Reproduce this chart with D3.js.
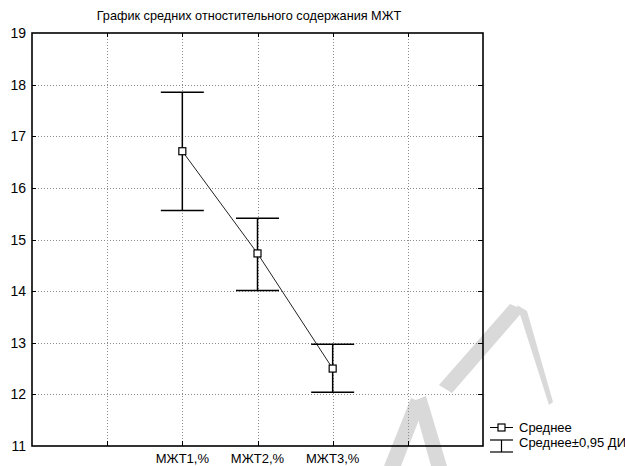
<!DOCTYPE html>
<html>
<head>
<meta charset="utf-8">
<script src="https://cdn.jsdelivr.net/npm/d3@7"></script>
<style>
  html, body { margin: 0; padding: 0; background: #fff; }
  svg { display: block; font-family: "Liberation Sans", Arial, sans-serif; }
</style>
</head>
<body>
<div id="chart"></div>
<script>
// Data
var categories = ['МЖТ1,%', 'МЖТ2,%', 'МЖТ3,%'];
var means = [16.71, 14.73, 12.50];
var ciLow = [15.56, 14.01, 12.04];
var ciHigh = [17.85, 15.41, 12.97];
var yTicks = [11, 12, 13, 14, 15, 16, 17, 18, 19];
var title = 'График средних отностительного содержания МЖТ';
var legendLabels = ['Среднее', 'Среднее±0,95 ДИ'];

(function() {
  var W = 625, H = 466;
  var left = 32, right = 483, top = 33, bottom = 446;

  var svg = d3.select('#chart').append('svg')
    .attr('width', W).attr('height', H);

  // 7 grid slots, categories sit on slots 2..4
  var x = d3.scaleLinear().domain([0, 6]).range([left, right]);
  var y = d3.scaleLinear().domain([11, 19]).range([bottom, top]);
  var slots = d3.range(0, 7);

  // Watermark (light gray strokes behind the chart)
  var wm = svg.append('g').attr('fill', '#d9d9d9');
  wm.append('polygon').attr('points', '510,304 524,310 452,393 439,385');
  wm.append('polygon').attr('points', '517,305 527,311 553,402 549,405');
  wm.append('polygon').attr('points', '411,398 425,404 401,466 384,466');
  wm.append('polygon').attr('points', '413,401 426,396 447,466 431,466');

  // Grid
  var grid = svg.append('g')
    .attr('stroke', '#8c8c8c').attr('stroke-width', 1)
    .attr('stroke-dasharray', '1,2');
  grid.selectAll('line.v')
    .data(slots.slice(1, 6))
    .join('line').attr('class', 'v')
    .attr('x1', function(d) { return Math.round(x(d)) + 0.5; })
    .attr('x2', function(d) { return Math.round(x(d)) + 0.5; })
    .attr('y1', top).attr('y2', bottom);
  grid.selectAll('line.h')
    .data(yTicks.slice(1, -1))
    .join('line').attr('class', 'h')
    .attr('y1', function(d) { return Math.round(y(d)) + 0.5; })
    .attr('y2', function(d) { return Math.round(y(d)) + 0.5; })
    .attr('x1', left).attr('x2', right);

  // Inward ticks on all sides
  var ticks = svg.append('g').attr('stroke', '#000').attr('stroke-width', 1);
  slots.slice(1, 6).forEach(function(d) {
    var xx = Math.round(x(d)) + 0.5;
    ticks.append('line').attr('x1', xx).attr('x2', xx).attr('y1', bottom).attr('y2', bottom - 5);
    ticks.append('line').attr('x1', xx).attr('x2', xx).attr('y1', top).attr('y2', top + 4);
  });
  yTicks.slice(1, -1).forEach(function(d) {
    var yy = Math.round(y(d)) + 0.5;
    ticks.append('line').attr('y1', yy).attr('y2', yy).attr('x1', right).attr('x2', right - 5);
    ticks.append('line').attr('y1', yy).attr('y2', yy).attr('x1', left).attr('x2', left + 4);
  });

  // Frame
  svg.append('rect')
    .attr('x', left).attr('y', top)
    .attr('width', right - left).attr('height', bottom - top)
    .attr('fill', 'none').attr('stroke', '#000').attr('stroke-width', 1.6);

  // Y labels
  svg.append('g').selectAll('text')
    .data(yTicks)
    .join('text')
    .attr('x', 26)
    .attr('y', function(d) { return y(d) + 5; })
    .attr('text-anchor', 'end')
    .attr('font-size', '14px')
    .text(function(d) { return d; });

  // X labels
  svg.append('g').selectAll('text')
    .data(categories)
    .join('text')
    .attr('x', function(d, i) { return x(i + 2); })
    .attr('y', 463)
    .attr('text-anchor', 'middle')
    .attr('font-size', '13px')
    .text(function(d) { return d; });

  // Title
  svg.append('text')
    .attr('x', 249).attr('y', 20)
    .attr('text-anchor', 'middle')
    .attr('font-size', '12.7px')
    .text(title);

  // Mean line
  var line = d3.line()
    .x(function(d, i) { return x(i + 2); })
    .y(function(d) { return y(d); });
  svg.append('path')
    .datum(means)
    .attr('d', line)
    .attr('fill', 'none')
    .attr('stroke', '#222').attr('stroke-width', 1);

  // Error bars
  var capW = 21.5;
  var eb = svg.append('g').attr('stroke', '#000').attr('stroke-width', 1.5);
  categories.forEach(function(c, i) {
    var cx = x(i + 2);
    eb.append('line').attr('x1', cx).attr('x2', cx)
      .attr('y1', y(ciHigh[i])).attr('y2', y(ciLow[i]));
    eb.append('line').attr('x1', cx - capW).attr('x2', cx + capW)
      .attr('y1', y(ciHigh[i])).attr('y2', y(ciHigh[i]));
    eb.append('line').attr('x1', cx - capW).attr('x2', cx + capW)
      .attr('y1', y(ciLow[i])).attr('y2', y(ciLow[i]));
  });

  // Mean markers
  svg.append('g').selectAll('rect')
    .data(means)
    .join('rect')
    .attr('x', function(d, i) { return x(i + 2) - 3.5; })
    .attr('y', function(d) { return y(d) - 3.5; })
    .attr('width', 7).attr('height', 7)
    .attr('fill', '#fff').attr('stroke', '#000').attr('stroke-width', 1.2);

  // Legend
  var lg = svg.append('g');
  lg.append('line').attr('x1', 490).attr('x2', 513).attr('y1', 427.5).attr('y2', 427.5)
    .attr('stroke', '#000').attr('stroke-width', 1);
  lg.append('rect').attr('x', 498).attr('y', 424).attr('width', 7).attr('height', 7)
    .attr('fill', '#fff').attr('stroke', '#000').attr('stroke-width', 1.2);
  lg.append('line').attr('x1', 501.5).attr('x2', 501.5).attr('y1', 440).attr('y2', 452)
    .attr('stroke', '#000').attr('stroke-width', 1.2);
  lg.append('line').attr('x1', 490).attr('x2', 513).attr('y1', 440).attr('y2', 440)
    .attr('stroke', '#000').attr('stroke-width', 1.2);
  lg.append('line').attr('x1', 490).attr('x2', 513).attr('y1', 452).attr('y2', 452)
    .attr('stroke', '#000').attr('stroke-width', 1.2);
  lg.selectAll('text')
    .data(legendLabels)
    .join('text')
    .attr('x', 519)
    .attr('y', function(d, i) { return 432 + i * 15; })
    .attr('font-size', '13px')
    .text(function(d) { return d; });
})();
</script>
</body>
</html>
